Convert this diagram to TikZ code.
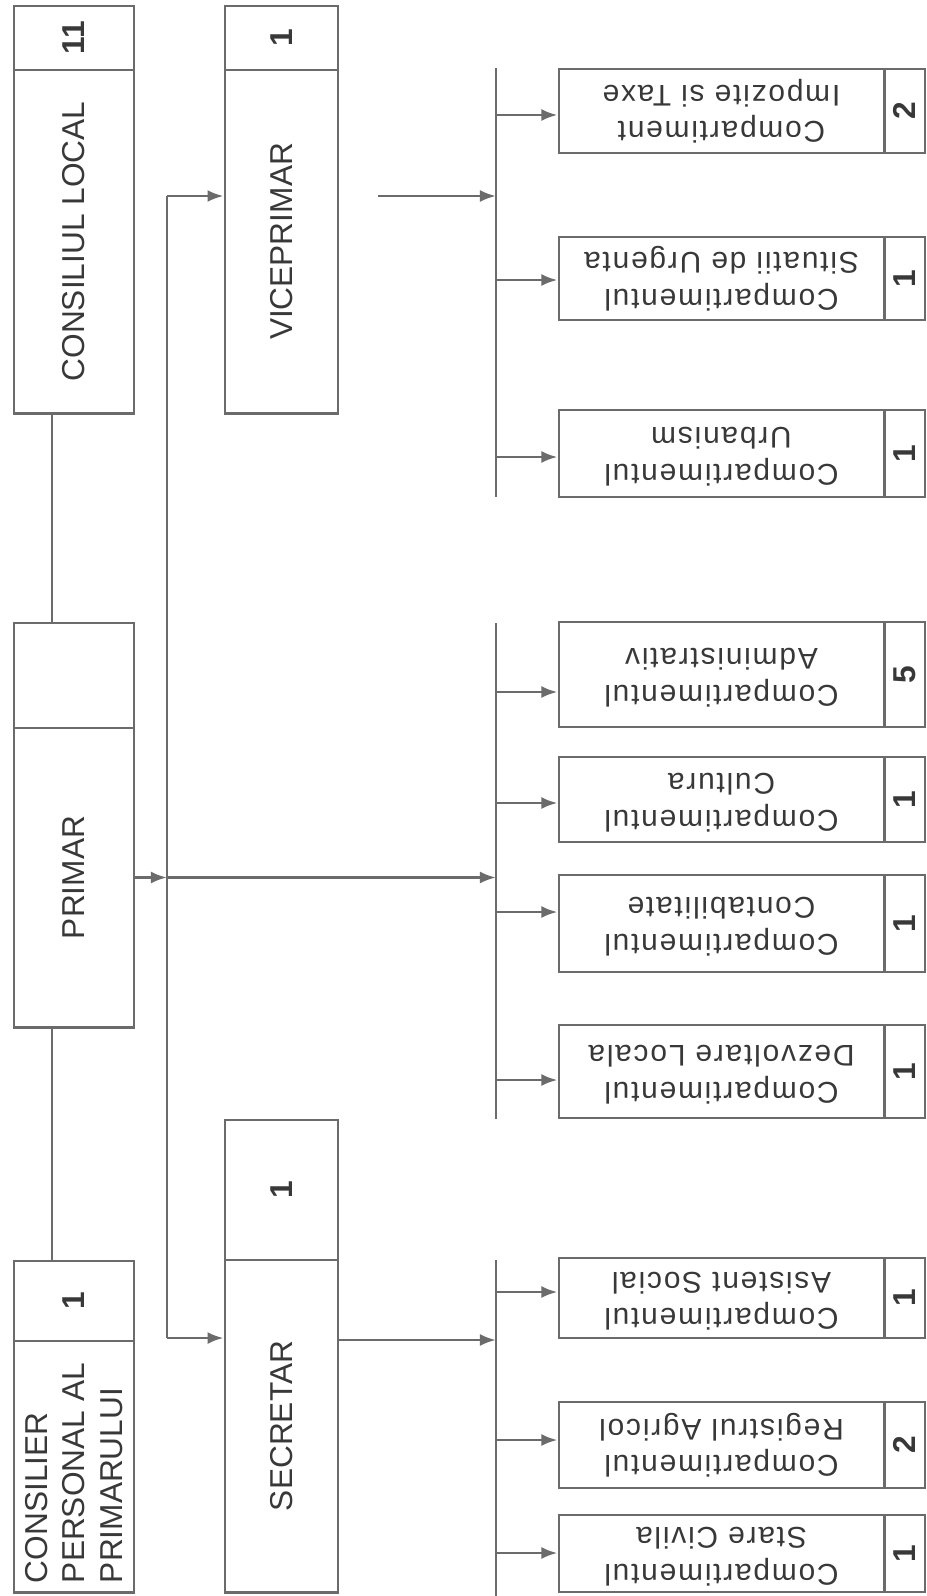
\documentclass[tikz,border=0pt]{standalone}
\usepackage{fontspec}
\setmainfont{Liberation Sans}
\newfontfamily\compfamily[LetterSpace=6]{Liberation Sans}
\usetikzlibrary{arrows.meta}
\definecolor{linegray}{gray}{0.42}
\definecolor{textgray}{gray}{0.22}
\newcommand{\headfont}{\fontsize{9}{10.6}\selectfont}
\newcommand{\compfont}{\compfamily\fontsize{8.5}{10.4}\selectfont}
\newcommand{\uptext}[1]{\rotatebox{90}{#1}}
\newcommand{\comptext}[2]{\rotatebox{180}{\begin{tabular}{@{}c@{}}#1\\#2\end{tabular}}}
\tikzstyle{cell}=[draw=linegray, line width=0.8pt, inner sep=0pt, text=textgray]
\tikzstyle{headbox}=[cell, minimum width=1.2cm, font=\headfont]
\tikzstyle{midbox}=[cell, minimum width=1.13cm, font=\headfont]
\tikzstyle{compbox}=[cell, minimum width=3.25cm, font=\compfont]
\tikzstyle{numbox}=[cell, minimum width=0.41cm, font=\headfont\bfseries]
\tikzstyle{link}=[draw=linegray, line width=0.8pt]
\tikzstyle{arr}=[link, -{Latex[length=1.6mm, width=1.2mm]}]

\begin{document}
\begin{tikzpicture}[x=0.01cm, y=-0.01cm]
        \useasboundingbox (0,0) rectangle (927,1596);
        % left column
        \node[headbox, minimum height=0.64cm] (clnum)  at (74, 38)     {\uptext{\textbf{11}}};
        \node[headbox, minimum height=3.43cm] (cl)     at (74, 241.5)  {\uptext{CONSILIUL LOCAL}};
        \node[headbox, minimum height=1.05cm] (prnum)  at (74, 675.5)  {};
        \node[headbox, minimum height=2.99cm] (pr)     at (74, 877.5)  {\uptext{PRIMAR}};
        \node[headbox, minimum height=0.80cm] (csnum)  at (74, 1301)   {\uptext{\textbf{1}}};
        \node[headbox, minimum height=2.51cm] (cs)     at (74, 1466.5) {\uptext{\parbox{2.33cm}{\raggedright CONSILIER\\PERSONAL AL\\PRIMARULUI}}};
        % middle column
        \node[midbox, minimum height=0.64cm]  (vpnum)  at (281.5, 38)    {\uptext{\textbf{1}}};
        \node[midbox, minimum height=3.43cm]  (vp)     at (281.5, 241.5) {\uptext{VICEPRIMAR}};
        \node[midbox, minimum height=1.40cm]  (secnum) at (281.5, 1190)  {\uptext{\textbf{1}}};
        \node[midbox, minimum height=3.32cm]  (sec)    at (281.5, 1426)  {\uptext{SECRETAR}};
        % compartments
        \node[compbox, minimum height=0.84cm] (imp)    at (721.5, 111)    {\comptext{Compartiment}{Impozite si Taxe}};
        \node[numbox, minimum height=0.84cm]  (impnum) at (904.5, 111)    {\uptext{2}};
        \node[compbox, minimum height=0.83cm] (sit)    at (721.5, 278.5)  {\comptext{Compartimentul}{Situatii de Urgenta}};
        \node[numbox, minimum height=0.83cm]  (sitnum) at (904.5, 278.5)  {\uptext{1}};
        \node[compbox, minimum height=0.87cm] (urb)    at (721.5, 453.5)  {\comptext{Compartimentul}{Urbanism}};
        \node[numbox, minimum height=0.87cm]  (urbnum) at (904.5, 453.5)  {\uptext{1}};
        \node[compbox, minimum height=1.05cm] (adm)    at (721.5, 674.5)  {\comptext{Compartimentul}{Administrativ}};
        \node[numbox, minimum height=1.05cm]  (admnum) at (904.5, 674.5)  {\uptext{5}};
        \node[compbox, minimum height=0.85cm] (cul)    at (721.5, 799.5)  {\comptext{Compartimentul}{Cultura}};
        \node[numbox, minimum height=0.85cm]  (culnum) at (904.5, 799.5)  {\uptext{1}};
        \node[compbox, minimum height=0.97cm] (con)    at (721.5, 923.5)  {\comptext{Compartimentul}{Contabilitate}};
        \node[numbox, minimum height=0.97cm]  (connum) at (904.5, 923.5)  {\uptext{1}};
        \node[compbox, minimum height=0.93cm] (dez)    at (721.5, 1071.5) {\comptext{Compartimentul}{Dezvoltare Locala}};
        \node[numbox, minimum height=0.93cm]  (deznum) at (904.5, 1071.5) {\uptext{1}};
        \node[compbox, minimum height=0.80cm] (asi)    at (721.5, 1298)   {\comptext{Compartimentul}{Asistent Social}};
        \node[numbox, minimum height=0.80cm]  (asinum) at (904.5, 1298)   {\uptext{1}};
        \node[compbox, minimum height=0.86cm] (reg)    at (721.5, 1445)   {\comptext{Compartimentul}{Registrul Agricol}};
        \node[numbox, minimum height=0.86cm]  (regnum) at (904.5, 1445)   {\uptext{2}};
        \node[compbox, minimum height=0.77cm] (sta)    at (721.5, 1553.5) {\comptext{Compartimentul}{Stare Civila}};
        \node[numbox, minimum height=0.77cm]  (stanum) at (904.5, 1553.5) {\uptext{1}};
        % line ends
        \coordinate (feedvp)  at (167, 196);
        \coordinate (feedpr)  at (167, 877.5);
        \coordinate (feedsec) at (167, 1338);
        \coordinate (vpout)   at (378, 196);
        \coordinate (secbus)  at (496, 1340);
        \coordinate (busAtop) at (496, 68);
        \coordinate (busAbot) at (496, 497);
        \coordinate (busBtop) at (496, 623);
        \coordinate (busBbot) at (496, 1119);
        \coordinate (busCtop) at (496, 1260);
        \coordinate (busCbot) at (496, 1596);
        \coordinate (aimp) at (496, 115);
        \coordinate (asit) at (496, 280);
        \coordinate (aurb) at (496, 457);
        \coordinate (aadm) at (496, 692);
        \coordinate (acul) at (496, 803);
        \coordinate (acon) at (496, 912);
        \coordinate (adez) at (496, 1080);
        \coordinate (aasi) at (496, 1292);
        \coordinate (areg) at (496, 1440);
        \coordinate (asta) at (496, 1553);
        \draw[link] ([xshift=-0.22cm]cl.south) -- ([xshift=-0.22cm]prnum.north);
        \draw[link] ([xshift=-0.22cm]pr.south) -- ([xshift=-0.22cm]csnum.north);
        \draw[link] (feedvp) -- (feedsec);
        \draw[arr] (feedvp) -- (feedvp -| vp.west);
        \draw[arr] (feedsec) -- (feedsec -| sec.west);
        \draw[arr] (pr.east) -- (feedpr);
        \draw[arr] (feedpr) -- (feedpr -| busBtop);
        \draw[arr] (vpout) -- (vpout -| busAtop);
        \draw[arr] (secbus -| sec.east) -- (secbus);
        \draw[link] (busAtop) -- (busAbot);
        \draw[link] (busBtop) -- (busBbot);
        \draw[link] (busCtop) -- (busCbot);
        \draw[arr] (aimp) -- (aimp -| imp.west);
        \draw[arr] (asit) -- (asit -| sit.west);
        \draw[arr] (aurb) -- (aurb -| urb.west);
        \draw[arr] (aadm) -- (aadm -| adm.west);
        \draw[arr] (acul) -- (acul -| cul.west);
        \draw[arr] (acon) -- (acon -| con.west);
        \draw[arr] (adez) -- (adez -| dez.west);
        \draw[arr] (aasi) -- (aasi -| asi.west);
        \draw[arr] (areg) -- (areg -| reg.west);
        \draw[arr] (asta) -- (asta -| sta.west);
    \end{tikzpicture}
\end{document}
